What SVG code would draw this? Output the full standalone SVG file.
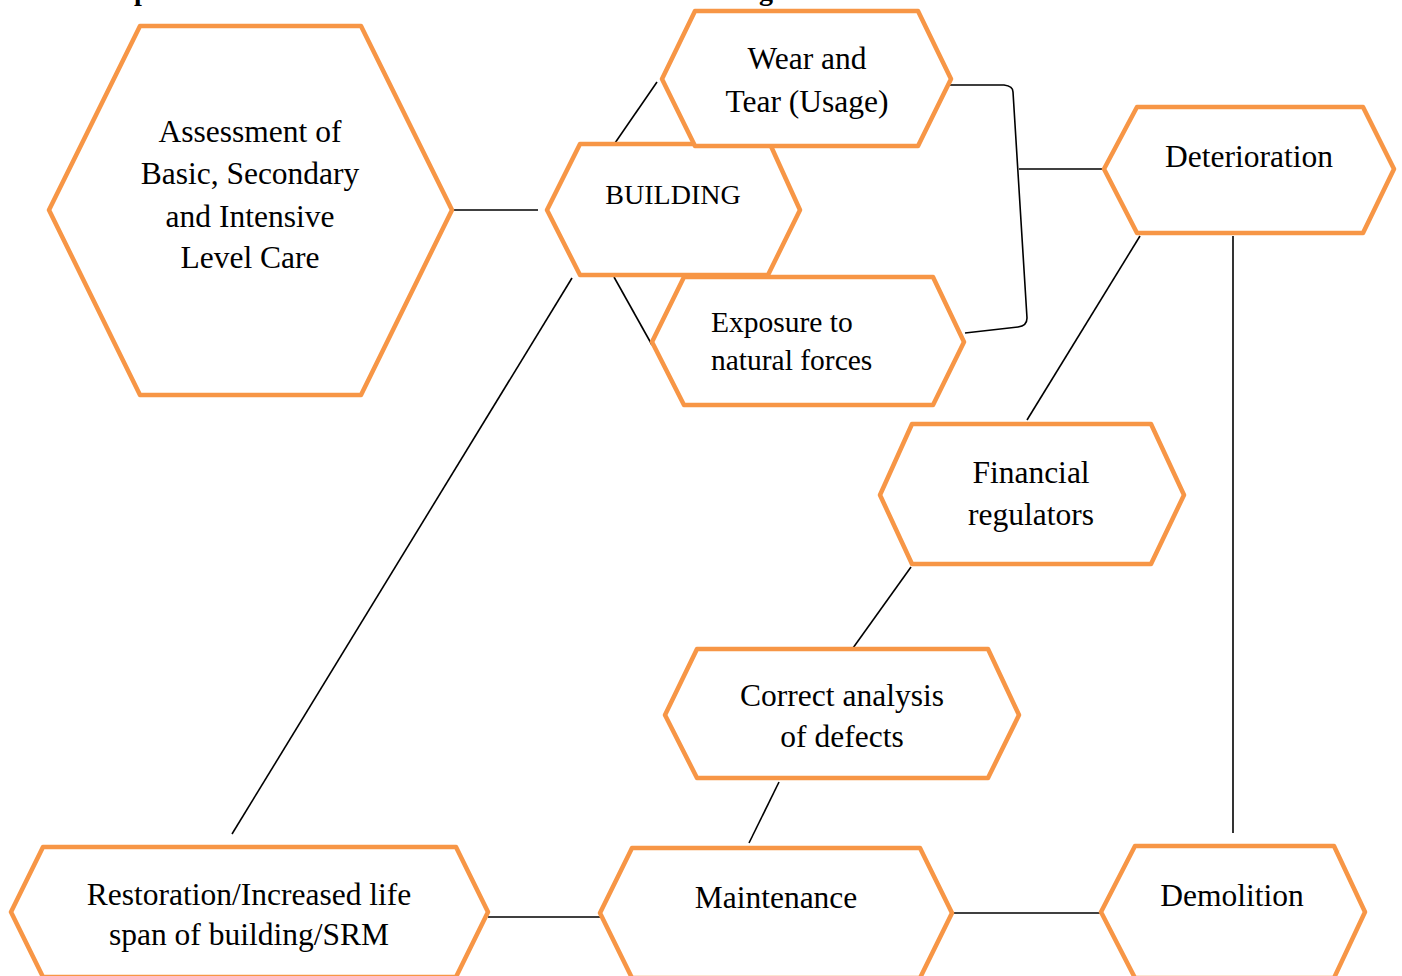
<svg xmlns="http://www.w3.org/2000/svg" width="1402" height="976" viewBox="0 0 1402 976">
<style>
.hex{fill:#fff;stroke:#F79646;stroke-width:4.5;stroke-linejoin:round}
.lbl{font-family:"Liberation Serif","Times New Roman",serif;font-size:31.5px;fill:#000}
.c{text-anchor:middle}
.ln{fill:none;stroke:#000;stroke-width:1.6}
.frag{font-family:"Liberation Serif","Times New Roman",serif;font-size:28px;font-weight:bold;fill:#000}
</style>
<rect width="1402" height="976" fill="#fff"/>
<text class="frag" x="134" y="0">p</text>
<text class="frag" x="759" y="0">g</text>
<g id="connectors">
<line class="ln" x1="453" y1="210" x2="538" y2="210"/>
<line class="ln" x1="615" y1="143" x2="657" y2="82"/>
<line class="ln" x1="614" y1="277" x2="652" y2="345"/>
<line class="ln" x1="572" y1="278" x2="232" y2="834"/>
<path class="ln" d="M948,85 L1004,85 Q1013,86 1013,92 L1027,318 Q1027,326 1018,327 L965,333"/>
<line class="ln" x1="1019" y1="169" x2="1104" y2="169"/>
<line class="ln" x1="1140" y1="236" x2="1027" y2="420"/>
<line class="ln" x1="1233" y1="236" x2="1233" y2="833"/>
<line class="ln" x1="911" y1="567" x2="853" y2="648"/>
<line class="ln" x1="779" y1="782" x2="749" y2="843"/>
<line class="ln" x1="488" y1="917" x2="600" y2="917"/>
<line class="ln" x1="952" y1="913" x2="1101" y2="913"/>
</g>
<g id="assessment">
<polygon class="hex" points="49,210 140,26 361,26 452,210 361,395 140,395"/>
<text class="lbl c" x="250" y="142">Assessment of</text>
<text class="lbl c" x="250" y="184">Basic, Secondary</text>
<text class="lbl c" x="250" y="227">and Intensive</text>
<text class="lbl c" x="250" y="268">Level Care</text>
</g>
<g id="building">
<polygon class="hex" points="547,210 580,144 770,144 800,210 768,275 580,275"/>
<text class="lbl c" x="673" y="204" style="font-size:28px">BUILDING</text>
</g>
<g id="wear">
<polygon class="hex" points="662,79 695,11 918,11 951,79 918,146 695,146"/>
<text class="lbl c" x="807" y="69">Wear and</text>
<text class="lbl c" x="807" y="112">Tear (Usage)</text>
</g>
<g id="exposure">
<polygon class="hex" points="652,342 684,277 933,277 964,342 933,405 684,405"/>
<text class="lbl" x="711" y="332" style="font-size:29.5px">Exposure to</text>
<text class="lbl" x="711" y="370" style="font-size:29.5px">natural forces</text>
</g>
<g id="deterioration">
<polygon class="hex" points="1104,169 1137,107 1363,107 1394,169 1363,233 1137,233"/>
<text class="lbl c" x="1249" y="167">Deterioration</text>
</g>
<g id="financial">
<polygon class="hex" points="880,495 912,424 1151,424 1184,495 1151,564 912,564"/>
<text class="lbl c" x="1031" y="483">Financial</text>
<text class="lbl c" x="1031" y="525">regulators</text>
</g>
<g id="correct">
<polygon class="hex" points="665,715 697,649 988,649 1019,715 988,778 697,778"/>
<text class="lbl c" x="842" y="706">Correct analysis</text>
<text class="lbl c" x="842" y="747">of defects</text>
</g>
<g id="restoration">
<polygon class="hex" points="11,912 43,847 456,847 488,912 456,977 43,977"/>
<text class="lbl c" x="249" y="905">Restoration/Increased life</text>
<text class="lbl c" x="249" y="945">span of building/SRM</text>
</g>
<g id="maintenance">
<polygon class="hex" points="600,913 632,848 920,848 952,913 920,978 632,978"/>
<text class="lbl c" x="776" y="908">Maintenance</text>
</g>
<g id="demolition">
<polygon class="hex" points="1101,912 1135,846 1334,846 1365,912 1334,978 1135,978"/>
<text class="lbl c" x="1232" y="906">Demolition</text>
</g>
</svg>
